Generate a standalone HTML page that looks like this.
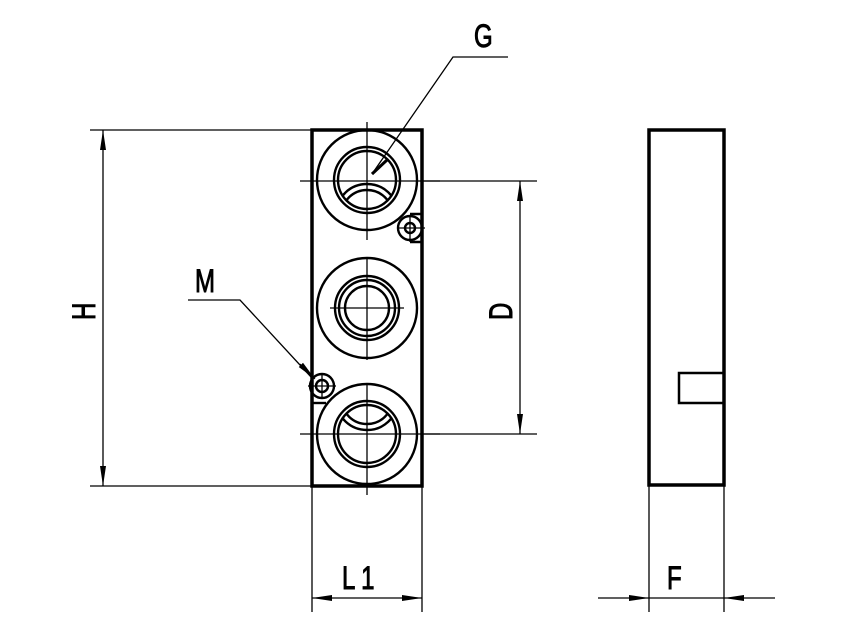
<!DOCTYPE html>
<html><head><style>body{margin:0;background:#fff}svg{display:block}</style></head><body>
<svg width="854" height="634" viewBox="0 0 854 634" xmlns="http://www.w3.org/2000/svg">
<defs>
<marker id="a" viewBox="0 0 20 8" refX="20" refY="4" markerWidth="20" markerHeight="8" markerUnits="userSpaceOnUse" orient="auto"><path d="M0,1 L20,4 L0,7z" fill="#000"/></marker>
<clipPath id="c1"><circle cx="367" cy="180" r="29"/></clipPath>
<clipPath id="c3"><circle cx="367" cy="434" r="29"/></clipPath>
</defs>
<g fill="none" stroke="#000">
<rect x="312" y="130" width="110" height="356" stroke-width="3.5"/>
<g stroke-width="2.4">
<circle cx="367" cy="180" r="50"/>
<circle cx="367" cy="180" r="33"/><circle cx="367" cy="180" r="29"/>
<g clip-path="url(#c1)"><ellipse cx="367" cy="212" rx="30" ry="28"/><ellipse cx="367" cy="214" rx="25" ry="24"/></g>
<circle cx="367" cy="308" r="50"/>
<circle cx="367" cy="308" r="32"/><circle cx="367" cy="308" r="28"/><circle cx="367" cy="308" r="22"/>
<circle cx="367" cy="434" r="50"/>
<circle cx="367" cy="434" r="33"/><circle cx="367" cy="434" r="29"/>
<g clip-path="url(#c3)"><ellipse cx="367" cy="402" rx="30" ry="28"/><ellipse cx="367" cy="400" rx="25" ry="24"/></g>
<circle cx="410" cy="228" r="12"/><circle cx="410" cy="228" r="5"/>
<path d="M410,214 H422 M410,242 H422"/>
<circle cx="322" cy="386" r="12"/><circle cx="322" cy="386" r="6"/>
<path d="M312,403 H326"/>
</g>
<g stroke-width="1.3">
<path d="M367,122 V240 M300,181 H440 M367,258 V360 M330,308 H404 M367,385 V495 M300,434 H440 M397,228 H425 M410,215 V242 M308,386 H336 M322,373 V399"/>
</g>
<rect x="649" y="130" width="75" height="355" stroke-width="3.5"/>
<path d="M724,373 H679 V403 H724" stroke-width="2.5"/>
<g stroke-width="1.3">
<path d="M90,130 H312 M90,486 H312"/>
<path d="M103,308 V130" marker-end="url(#a)"/><path d="M103,308 V486" marker-end="url(#a)"/>
<path d="M420,181 H537 M420,434 H537"/>
<path d="M520,308 V181" marker-end="url(#a)"/><path d="M520,308 V434" marker-end="url(#a)"/>
<path d="M312,486 V612 M422,486 V612"/>
<path d="M367,598 H312" marker-end="url(#a)"/><path d="M367,598 H422" marker-end="url(#a)"/>
<path d="M649,486 V612 M724,486 V612"/>
<path d="M598,598 H649" marker-end="url(#a)"/><path d="M775,598 H724" marker-end="url(#a)"/>
<path d="M649,598 H724"/>
<path d="M508,57 H453 L372,174"/>
<path d="M188,300 H240 L312,378"/>
</g>
<path d="M387,160 L372,174" stroke-width="3"/>
<path d="M300,364 L315,379" stroke-width="1" marker-end="url(#a)"/>
</g>
<g font-family="Liberation Sans, sans-serif" font-size="32" fill="#000" stroke="#000" stroke-width="1">
<text x="0" y="0" transform="translate(474,47) scale(0.75,1)">G</text>
<text x="0" y="0" transform="translate(195,292) scale(0.75,1)">M</text>
<text x="0" y="0" transform="translate(667,589) scale(0.75,1)">F</text>
<text x="0" y="0" transform="translate(342,589) scale(0.75,1)">L 1</text>
<text x="0" y="0" transform="translate(95,320) rotate(-90) scale(0.75,1)">H</text>
<text x="0" y="0" transform="translate(512,320) rotate(-90) scale(0.75,1)">D</text>
</g>
</svg>
</body></html>
